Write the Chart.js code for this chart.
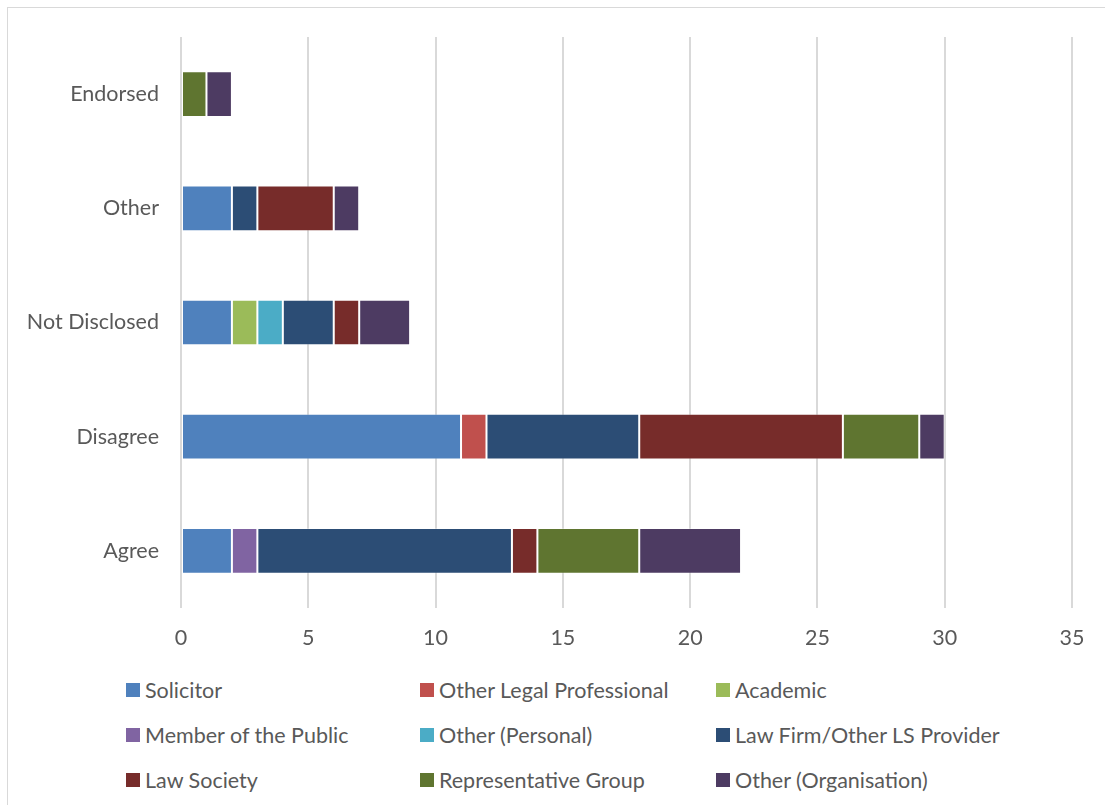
<!DOCTYPE html>
<html>
<head>
<meta charset="utf-8">
<script src="https://cdn.jsdelivr.net/npm/chart.js@4/dist/chart.umd.min.js"></script>
<style>
  body { margin: 0; background: #fff; font-family: Lato, "Open Sans", sans-serif; }
  #frame { position: absolute; left: 7px; top: 7px; width: 1110px; height: 810px; border: 1px solid #d9d9d9; }
  #wrap { position: absolute; left: 0; top: 0; width: 1105px; height: 660px; }
  #legend { position: absolute; left: 126px; top: 676px; width: 900px;
            display: grid; grid-template-columns: 294px 296px 300px; grid-auto-rows: 45px; }
  .item { display: flex; align-items: center; height: 28px; color: #595959; font-size: 21.5px; white-space: nowrap; }
  .box { width: 14px; height: 14px; margin-right: 5px; flex: none; }
</style>
</head>
<body>
<div id="frame"></div>
<div id="wrap"><canvas id="chart"></canvas></div>
<div id="legend"></div>
<script>
const categories = ['Endorsed', 'Other', 'Not Disclosed', 'Disagree', 'Agree'];
const xTicks = [0, 5, 10, 15, 20, 25, 30, 35];

const solicitor          = [0, 2, 2, 11, 2];
const otherLegalProf     = [0, 0, 0, 1, 0];
const academic           = [0, 0, 1, 0, 0];
const memberOfPublic     = [0, 0, 0, 0, 1];
const otherPersonal      = [0, 0, 1, 0, 0];
const lawFirm            = [0, 1, 2, 6, 10];
const lawSociety         = [0, 3, 1, 8, 1];
const representative     = [1, 0, 0, 3, 4];
const otherOrganisation  = [1, 1, 2, 1, 4];

const seriesNames = ['Solicitor', 'Other Legal Professional', 'Academic', 'Member of the Public',
  'Other (Personal)', 'Law Firm/Other LS Provider', 'Law Society', 'Representative Group', 'Other (Organisation)'];
const seriesData = [solicitor, otherLegalProf, academic, memberOfPublic, otherPersonal,
  lawFirm, lawSociety, representative, otherOrganisation];
const colors = ['#4F81BD', '#C0504D', '#9BBB59', '#8064A2', '#4BACC6',
  '#2C4D75', '#772C2A', '#5F7530', '#4D3B62'];

const textColor = '#595959';
const font = { family: 'Lato, "Open Sans", sans-serif', size: 21.5 };

const ctx = document.getElementById('chart');
const myChart = new Chart(ctx, {
  type: 'bar',
  data: {
    labels: categories,
    datasets: seriesNames.map((name, i) => ({
      label: name,
      data: seriesData[i],
      backgroundColor: colors[i],
      borderColor: 'rgba(255,255,255,0.3)',
      borderWidth: 1,
      borderSkipped: false,
      categoryPercentage: 1,
      barPercentage: 0.4
    }))
  },
  options: {
    indexAxis: 'y',
    responsive: true,
    maintainAspectRatio: false,
    animation: false,
    layout: { padding: { left: 10, right: 33, top: 37, bottom: 0 } },
    plugins: {
      legend: { display: false },
      tooltip: { enabled: false }
    },
    scales: {
      x: {
        stacked: true,
        min: 0,
        max: 35,
        afterBuildTicks: (s) => { s.ticks = xTicks.map(v => ({ value: v })); },
        afterFit: (s) => { s.height = 52; },
        grid: { color: '#d9d9d9', lineWidth: 2, drawTicks: false },
        border: { display: false },
        ticks: { color: textColor, font: font, padding: 17 }
      },
      y: {
        stacked: true,
        afterFit: (s) => { s.width = 171; },
        grid: { display: false, drawTicks: false },
        border: { display: false },
        ticks: { color: textColor, font: font, padding: 22 }
      }
    }
  }
});

const legend = document.getElementById('legend');
myChart.data.datasets.forEach(ds => {
  const item = document.createElement('div');
  item.className = 'item';
  const box = document.createElement('span');
  box.className = 'box';
  box.style.background = ds.backgroundColor;
  const txt = document.createElement('span');
  txt.textContent = ds.label;
  item.appendChild(box);
  item.appendChild(txt);
  legend.appendChild(item);
});
</script>
</body>
</html>
